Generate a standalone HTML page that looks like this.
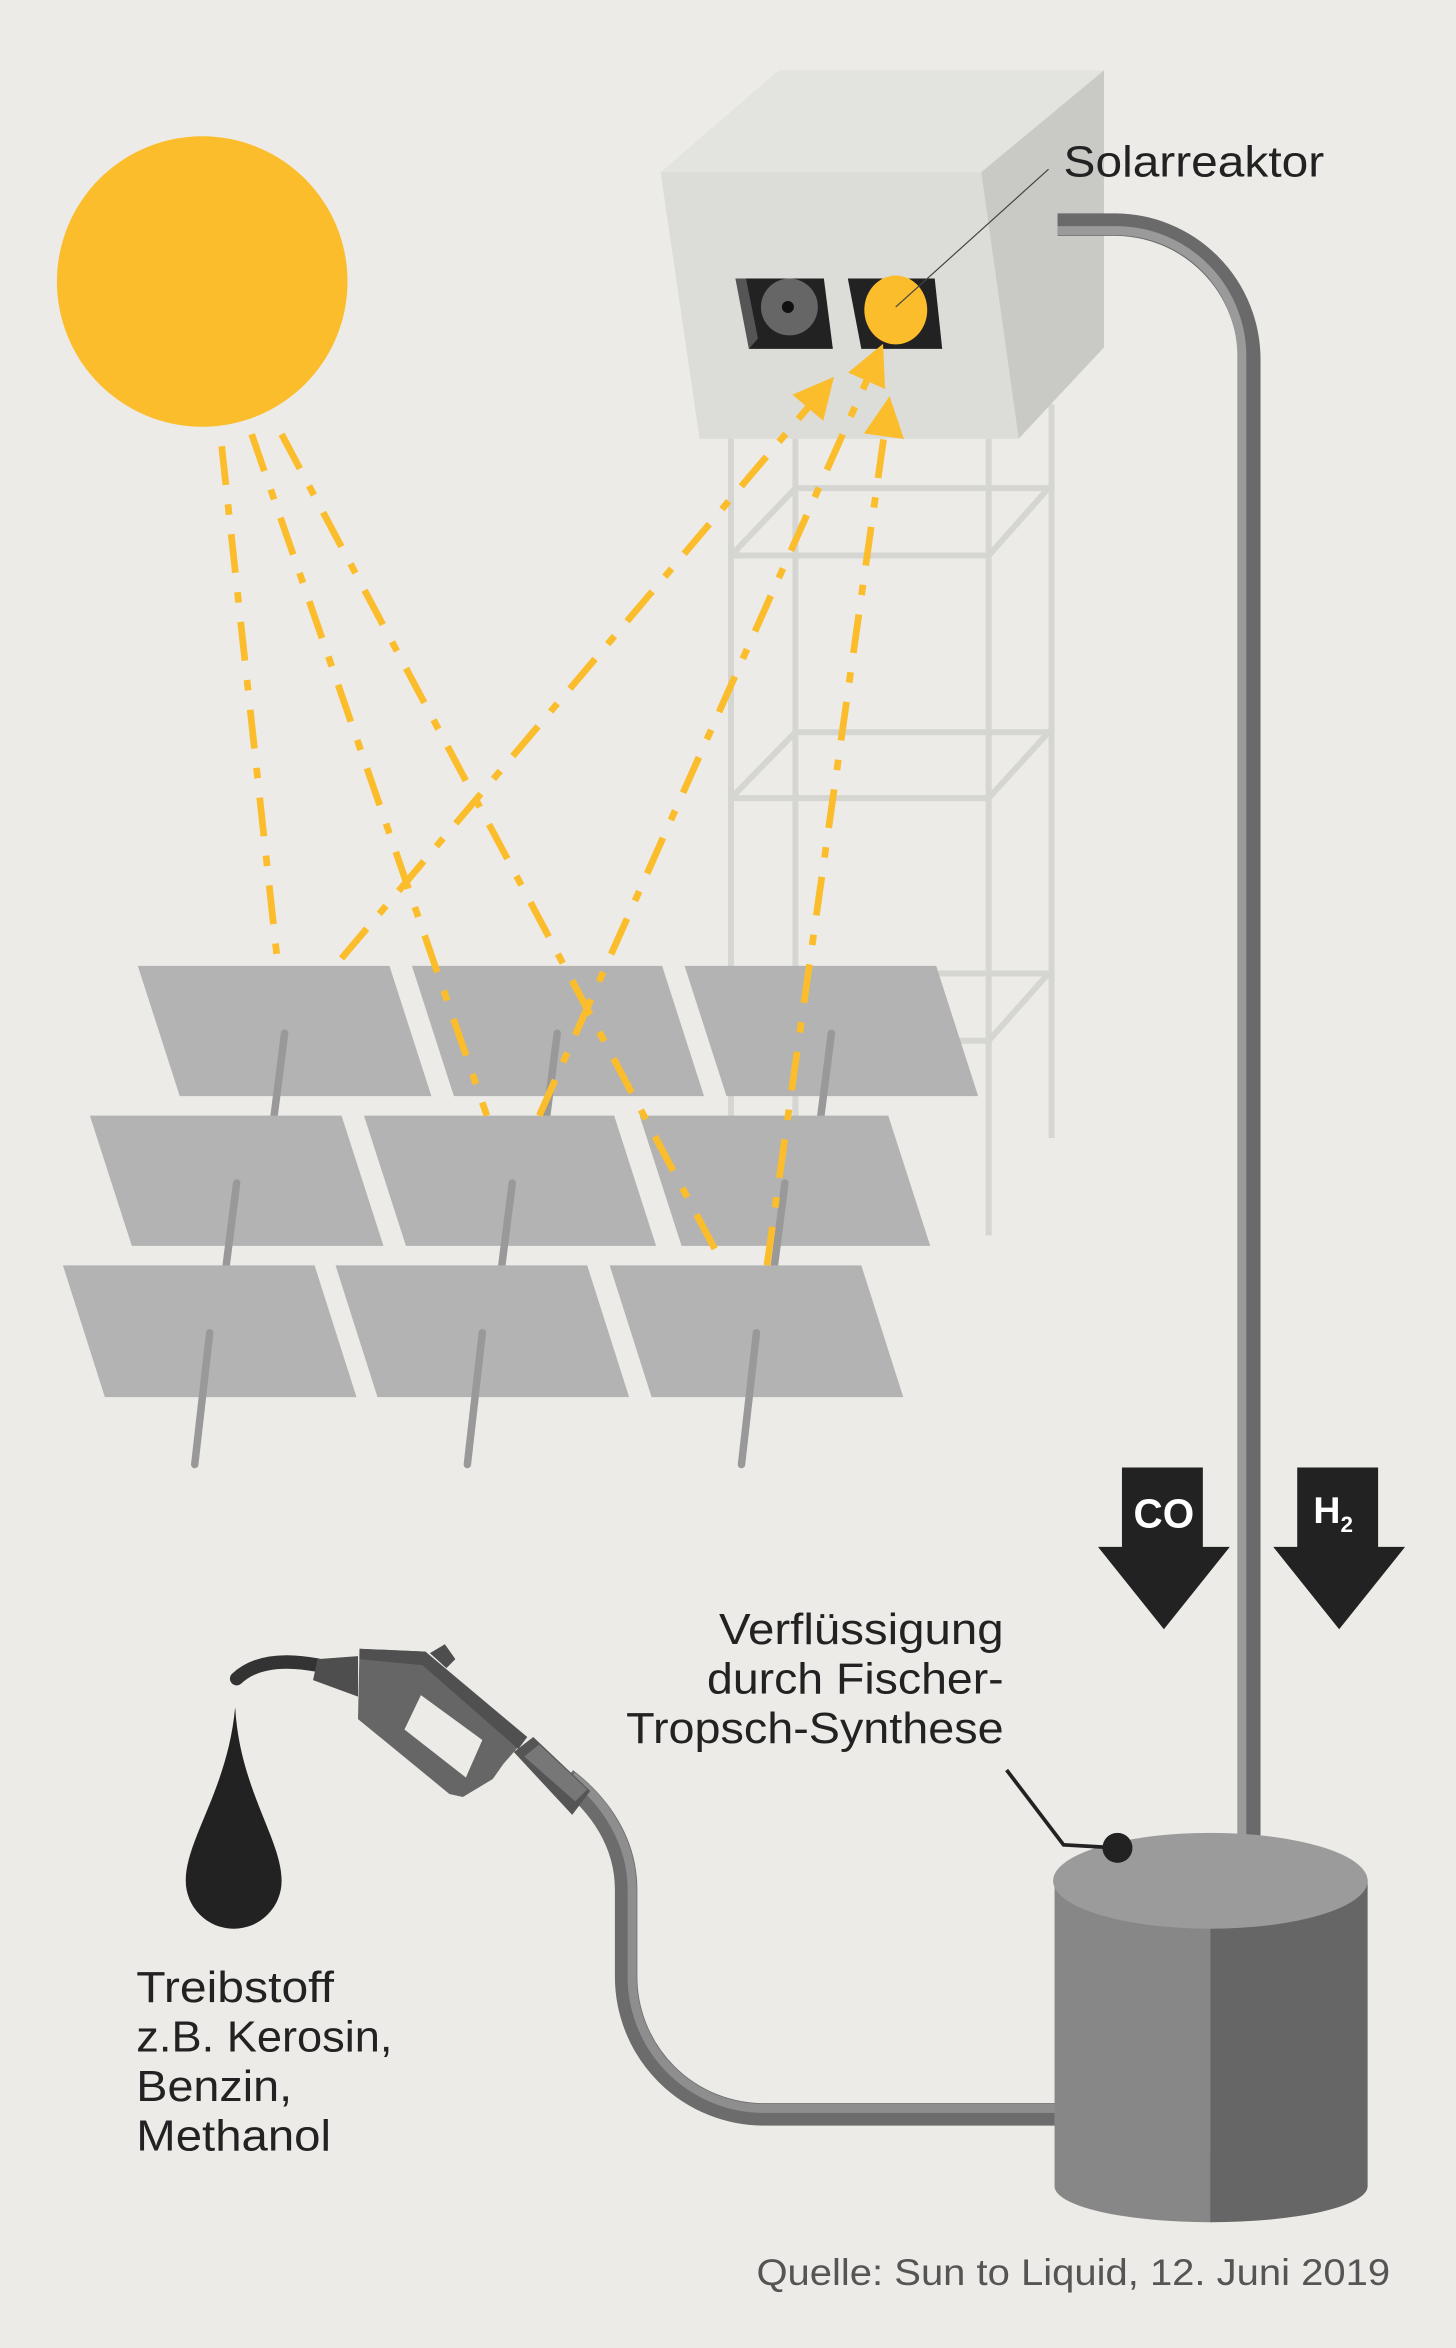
<!DOCTYPE html>
<html><head><meta charset="utf-8"><style>html,body{margin:0;padding:0;background:#ecebe7}svg{display:block}</style></head><body>
<svg width="1456" height="2348" viewBox="0 0 972 1568" preserveAspectRatio="none" xmlns="http://www.w3.org/2000/svg">
<defs>
<marker id="ah" viewBox="0 0 10 10" refX="5" refY="5" markerWidth="6" markerHeight="6" orient="auto" markerUnits="strokeWidth"><path d="M0,0 L10,5 L0,10 Z" fill="#fbbd2b"/></marker>
<clipPath id="lh"><rect x="600" y="1200" width="208.5" height="320"/></clipPath>
<clipPath id="rh"><rect x="808" y="1200" width="200" height="320"/></clipPath>
</defs>
<rect width="972" height="1568" fill="#ecebe7"/>
<circle cx="135" cy="188" r="97" fill="#fbbd2b"/>
<g stroke="#d5d5d1" stroke-width="4" fill="none">
<line x1="488" y1="290" x2="488" y2="745"/><line x1="531" y1="290" x2="531" y2="745"/>
<line x1="660" y1="290" x2="660" y2="825"/><line x1="702" y1="270" x2="702" y2="760"/>
<line x1="531" y1="326" x2="702" y2="326"/><line x1="488" y1="371" x2="660" y2="371"/>
<line x1="488" y1="371" x2="531" y2="326"/><line x1="660" y1="371" x2="700" y2="326"/>
<line x1="531" y1="489" x2="702" y2="489"/><line x1="488" y1="533" x2="660" y2="533"/>
<line x1="488" y1="533" x2="531" y2="489"/><line x1="660" y1="533" x2="700" y2="489"/>
<line x1="531" y1="650" x2="702" y2="650"/><line x1="488" y1="695" x2="660" y2="695"/>
<line x1="660" y1="695" x2="700" y2="650"/>
</g>
<polygon points="441,115 520,47 737,47 655,115" fill="#e3e3df"/>
<polygon points="655,115 737,47 737,232 680,293" fill="#c9c9c5"/>
<polygon points="441,115 655,115 680,293 467,293" fill="#dcdcd8"/>
<polygon points="491,186 550,186 556,233 500,233" fill="#222"/>
<polygon points="491,186 498,186 506,226 500,233" fill="#555"/>
<circle cx="527" cy="205" r="19" fill="#666"/><circle cx="526" cy="205" r="4" fill="#111"/>
<polygon points="566,186 624,186 629,233 575,233" fill="#222"/>
<ellipse cx="598" cy="207" rx="21" ry="23" fill="#fbbd2b"/>
<line x1="700" y1="113" x2="598" y2="205" stroke="#444" stroke-width="0.8"/>
<path d="M706,150 H745 A90,90 0 0 1 834,240 V1228" fill="none" stroke="#6a6a6a" stroke-width="15"/>
<path d="M706,154 H745 A84,84 0 0 1 829,240 V1228" fill="none" stroke="#9a9a9a" stroke-width="6"/>
<g fill="#b3b3b3">
<polygon points="92,645 260,645 288,732 120,732"/><polygon points="275,645 442,645 470,732 303,732"/><polygon points="457,645 625,645 653,732 485,732"/>
</g>
<g stroke="#999" stroke-width="5" stroke-linecap="round"><line x1="190" y1="690" x2="183" y2="745"/><line x1="372" y1="690" x2="365" y2="745"/><line x1="555" y1="690" x2="548" y2="745"/></g>
<g fill="#b3b3b3">
<polygon points="60,745 228,745 256,832 88,832"/><polygon points="243,745 410,745 438,832 271,832"/><polygon points="427,745 593,745 621,832 455,832"/>
</g>
<g stroke="#999" stroke-width="5" stroke-linecap="round"><line x1="158" y1="790" x2="151" y2="845"/><line x1="342" y1="790" x2="335" y2="845"/><line x1="524" y1="790" x2="517" y2="845"/></g>
<g fill="#b3b3b3">
<polygon points="42,845 210,845 238,933 70,933"/><polygon points="224,845 392,845 420,933 252,933"/><polygon points="407,845 575,845 603,933 435,933"/>
</g>
<g stroke="#999" stroke-width="5" stroke-linecap="round"><line x1="140" y1="890" x2="130" y2="978"/><line x1="322" y1="890" x2="312" y2="978"/><line x1="505" y1="890" x2="495" y2="978"/></g>
<g stroke="#fbbd2b" stroke-width="4.5" fill="none" stroke-dasharray="26 13 7 13">
<line x1="148" y1="298" x2="185" y2="640"/>
<line x1="168" y1="290" x2="325" y2="745"/>
<line x1="188" y1="290" x2="483" y2="845"/>
<line x1="228" y1="640" x2="548" y2="262" marker-end="url(#ah)"/>
<line x1="360" y1="745" x2="584" y2="242" marker-end="url(#ah)"/>
<line x1="512" y1="845" x2="592" y2="278" marker-end="url(#ah)"/>
</g>
<rect x="749" y="980" width="54" height="54" fill="#222"/><polygon points="733,1033 821,1033 777,1088" fill="#222"/>
<text x="777" y="1020" font-family="Liberation Sans, sans-serif" font-weight="bold" font-size="27" fill="#fff" text-anchor="middle">CO</text>
<rect x="866" y="980" width="54" height="54" fill="#222"/><polygon points="850,1033 938,1033 894,1088" fill="#222"/>
<text x="890" y="1017" font-family="Liberation Sans, sans-serif" font-weight="bold" font-size="25" fill="#fff" text-anchor="middle">H<tspan font-size="15" dy="6">2</tspan></text>
<g clip-path="url(#lh)"><rect x="704" y="1255" width="105" height="205" fill="#878787"/><ellipse cx="808" cy="1460" rx="104" ry="24" fill="#878787"/></g>
<g clip-path="url(#rh)"><rect x="808" y="1255" width="105" height="205" fill="#666"/><ellipse cx="808" cy="1460" rx="105" ry="24" fill="#666"/></g>
<ellipse cx="808" cy="1256" rx="105" ry="32" fill="#9b9b9b"/>
<polyline points="672,1182 710,1232 746,1234" fill="none" stroke="#222" stroke-width="2.5"/>
<circle cx="746" cy="1234" r="10" fill="#222"/>
<path d="M704,1412 H510 A92,92 0 0 1 418,1320 V1262 C418,1230 400,1205 378,1188" fill="none" stroke="#6c6c6c" stroke-width="15"/>
<path d="M704,1408 H510 A88,88 0 0 1 422,1320 V1262 C422,1230 404,1203 382,1186" fill="none" stroke="#8e8e8e" stroke-width="6"/>
<path d="M158,1121 Q175,1105 212,1112" fill="none" stroke="#333" stroke-width="9" stroke-linecap="round"/>
<polygon points="212,1108 239,1106 239,1133 209,1122" fill="#4e4e4e"/>
<polygon points="287,1104 297,1098 304,1108 298,1114" fill="#4e4e4e"/>
<polygon points="240,1101 284,1103 350,1162 336,1178 329,1188 309,1200 300,1198 239,1148" fill="#666"/>
<polygon points="240,1101 284,1103 352,1160 346,1168 282,1112 240,1108" fill="#505050"/>
<polygon points="281,1132 322,1162 311,1187 270,1155" fill="#ecebe7"/>
<polygon points="343,1170 356,1160 394,1196 382,1212" fill="#555"/>
<polygon points="350,1173 360,1165 392,1195 384,1203" fill="#777"/>
<path d="M157,1140 C160,1195 188,1228 188,1256 A32,32 0 0 1 124,1256 C124,1228 152,1195 157,1140 Z" fill="#222"/>
<g font-family="Liberation Sans, sans-serif" fill="#222">
<text x="710" y="118" font-size="29" textLength="174" lengthAdjust="spacingAndGlyphs">Solarreaktor</text>
<text x="670" y="1098" font-size="29" text-anchor="end" textLength="190" lengthAdjust="spacingAndGlyphs">Verflüssigung</text>
<text x="670" y="1131" font-size="29" text-anchor="end" textLength="198" lengthAdjust="spacingAndGlyphs">durch Fischer-</text>
<text x="670" y="1164" font-size="29" text-anchor="end" textLength="252" lengthAdjust="spacingAndGlyphs">Tropsch-Synthese</text>
<text x="91" y="1337" font-size="29" textLength="132" lengthAdjust="spacingAndGlyphs">Treibstoff</text>
<text x="91" y="1370" font-size="29" textLength="171" lengthAdjust="spacingAndGlyphs">z.B. Kerosin,</text>
<text x="91" y="1403" font-size="29" textLength="104" lengthAdjust="spacingAndGlyphs">Benzin,</text>
<text x="91" y="1436" font-size="29" textLength="130" lengthAdjust="spacingAndGlyphs">Methanol</text>
<text x="928" y="1526" font-size="25" fill="#555" text-anchor="end" textLength="423" lengthAdjust="spacingAndGlyphs">Quelle: Sun to Liquid, 12. Juni 2019</text>
</g>
</svg>
</body></html>
